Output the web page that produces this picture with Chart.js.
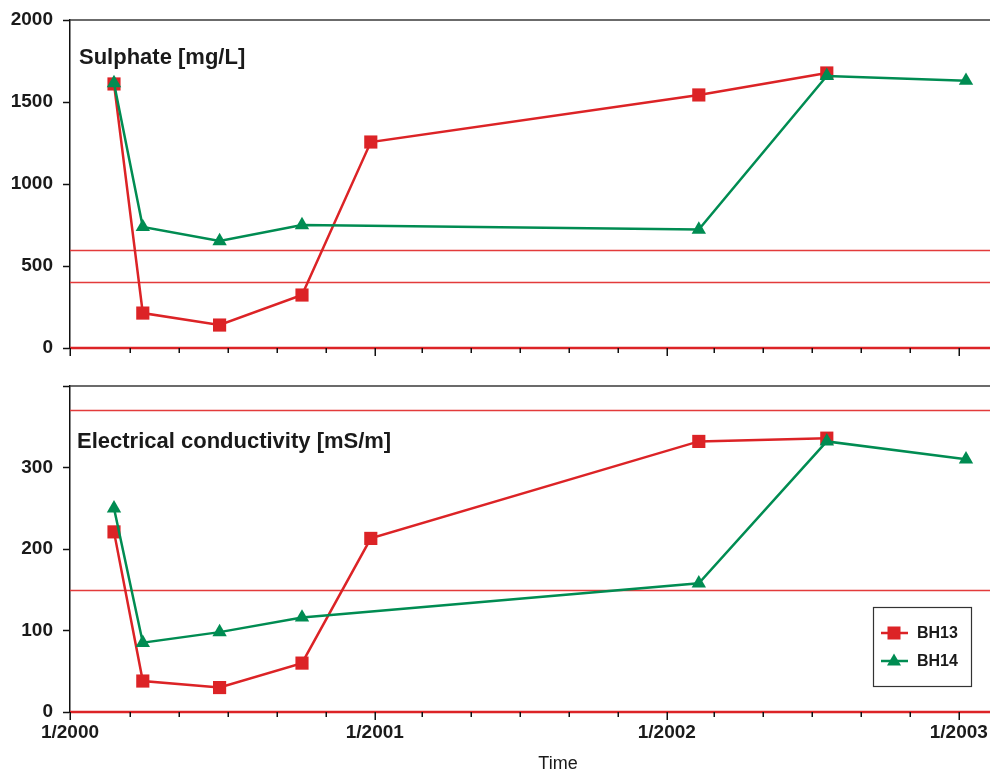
<!DOCTYPE html>
<html>
<head>
<meta charset="utf-8">
<title>Sulphate and electrical conductivity, BH13 / BH14</title>
<script src="https://cdn.jsdelivr.net/npm/chart.js@4.4.0/dist/chart.umd.min.js"></script>
<style>
  html, body { margin: 0; padding: 0; background: #fff; }
  #wrap { position: relative; width: 990px; height: 772px; overflow: hidden; }
  canvas { position: absolute; left: 0; }
  #sulphate { top: 0; }
  #conductivity { top: 365px; }
</style>
</head>
<body>
<div id="wrap">
  <canvas id="sulphate" width="990" height="365"></canvas>
  <canvas id="conductivity" width="990" height="407"></canvas>
</div>
<script>
// Sampling dates (null = no sample for that borehole on that date)
const sampleDates = ['2000-02-10', '2000-03-17', '2000-06-21', '2000-10-02', '2000-12-27', '2002-02-10', '2002-07-20', '2003-01-10'];

const sulphateBH13 = [1610, 213, 140, 323, 1256, 1543, 1677, null];
const sulphateBH14 = [1615, 738, 652, 750, null, 722, 1659, 1630];

const conductivityBH13 = [221, 38, 30, 60, 213, 332, 336, null];
const conductivityBH14 = [250, 85, 98, 116, null, 158, 332, 310];

// Guideline values drawn as horizontal lines
const sulphateLimits = [400, 600];
const conductivityLimits = [150, 370];

// Time axis
const axisStart = '1999-12-17';
const axisEnd = '2003-02-09';
const majorTickDates = ['1999-12-17', '2001-01-01', '2002-01-01', '2003-01-01'];
const xTickLabels = ['1/2000', '1/2001', '1/2002', '1/2003'];
const minorTickDates = [
  '2000-03-01', '2000-05-01', '2000-07-01', '2000-09-01', '2000-11-01',
  '2001-03-01', '2001-05-01', '2001-07-01', '2001-09-01', '2001-11-01',
  '2002-03-01', '2002-05-01', '2002-07-01', '2002-09-01', '2002-11-01'
];

const RED = '#dc2326';
const GREEN = '#008c52';
const FONT = '"Liberation Sans", Arial, Helvetica, sans-serif';
Chart.defaults.font.family = FONT;

const t = d => new Date(d + 'T00:00:00Z').getTime();

function toPoints(values) {
  const pts = [];
  values.forEach((v, i) => { if (v !== null) pts.push({ x: t(sampleDates[i]), y: v }); });
  return pts;
}

function seriesFor(bh13, bh14) {
  return [
    {
      label: 'BH13', data: toPoints(bh13), order: 1,
      borderColor: RED, backgroundColor: RED, borderWidth: 2.5,
      pointStyle: 'rect', pointRadius: 9.3, pointBorderWidth: 0,
      pointBackgroundColor: RED
    },
    {
      label: 'BH14', data: toPoints(bh14), order: 0,
      borderColor: GREEN, backgroundColor: GREEN, borderWidth: 2.5,
      pointStyle: 'triangle', pointRadius: 8.3, pointBorderWidth: 0,
      pointBackgroundColor: GREEN
    }
  ];
}

const majorValues = majorTickDates.map(t);
const allTicks = majorValues.map(v => ({ value: v, major: true }))
  .concat(minorTickDates.map(d => ({ value: t(d), major: false })))
  .sort((a, b) => a.value - b.value);

function xScale(showLabels, boxHeight) {
  return {
    type: 'linear',
    min: t(axisStart),
    max: t(axisEnd),
    afterBuildTicks: s => { s.ticks = allTicks.map(k => ({ value: k.value, major: k.major })); },
    afterFit: s => { s.height = boxHeight; s.paddingLeft = 0; s.paddingRight = 0; },
    border: { display: false },
    grid: { drawOnChartArea: false, drawTicks: true, tickLength: 7, color: 'rgba(0,0,0,0)' },
    ticks: {
      display: showLabels, autoSkip: false, maxRotation: 0, minRotation: 0, padding: 2,
      color: '#1a1a1a', font: { size: 19, weight: 'bold' },
      callback: v => { const i = majorValues.indexOf(v); return i >= 0 ? xTickLabels[i] : ''; }
    }
  };
}

function yScale(max, step, hideTop) {
  return {
    type: 'linear', min: 0, max: max,
    afterFit: s => { s.width = 70; s.paddingTop = 0; s.paddingBottom = 0; },
    border: { display: true, color: '#111', width: 1.5 },
    grid: { drawOnChartArea: false, drawTicks: true, tickLength: 7, tickColor: '#111', tickWidth: 1.5 },
    ticks: {
      stepSize: step, padding: 10, color: '#1a1a1a', font: { size: 19, weight: 'bold' },
      callback: v => (hideTop && v === max) ? '' : String(v)
    }
  };
}

// Guideline lines, zero line and frame line along the top of the plot
const guidePlugin = {
  id: 'guides',
  beforeDatasetsDraw(chart, args, opts) {
    const { ctx, chartArea: a, scales: { y } } = chart;
    ctx.save();
    ctx.strokeStyle = '#e33b3b';
    ctx.lineWidth = 1.3;
    opts.values.forEach(v => {
      const py = Math.round(y.getPixelForValue(v)) + 0.5;
      ctx.beginPath(); ctx.moveTo(a.left, py); ctx.lineTo(a.right, py); ctx.stroke();
    });
    ctx.strokeStyle = RED;
    ctx.lineWidth = 2.5;
    const p0 = y.getPixelForValue(0);
    ctx.beginPath(); ctx.moveTo(a.left, p0); ctx.lineTo(a.right, p0); ctx.stroke();
    ctx.strokeStyle = '#3a3a3a';
    ctx.lineWidth = 1.5;
    ctx.beginPath(); ctx.moveTo(a.left, a.top); ctx.lineTo(a.right, a.top); ctx.stroke();
    ctx.restore();
  }
};

// Time-axis tick marks: long for year marks, short for the two-monthly marks
const timeTickPlugin = {
  id: 'timeTicks',
  afterDraw(chart) {
    const { ctx, chartArea: a, scales: { x } } = chart;
    ctx.save();
    ctx.strokeStyle = '#111';
    ctx.lineWidth = 1.5;
    x.ticks.forEach(k => {
      const px = Math.round(x.getPixelForValue(k.value)) + 0.25;
      const len = k.major ? 8 : 5;
      ctx.beginPath(); ctx.moveTo(px, a.bottom); ctx.lineTo(px, a.bottom + len); ctx.stroke();
    });
    ctx.restore();
  }
};

// Panel heading and optional axis caption
const captionPlugin = {
  id: 'captions',
  afterDraw(chart, args, opts) {
    const { ctx } = chart;
    ctx.save();
    (opts.items || []).forEach(it => {
      ctx.font = it.font;
      ctx.fillStyle = '#1a1a1a';
      ctx.textAlign = it.align || 'left';
      ctx.textBaseline = 'alphabetic';
      ctx.fillText(it.text, it.x, it.y);
    });
    ctx.restore();
  }
};

// Boxed legend inside the plot
const boxLegendPlugin = {
  id: 'boxLegend',
  afterDraw(chart, args, opts) {
    if (!opts.show) return;
    const { ctx } = chart;
    const { x, y, w, h } = opts;
    ctx.save();
    ctx.fillStyle = '#fff';
    ctx.fillRect(x, y, w, h);
    ctx.strokeStyle = '#333';
    ctx.lineWidth = 1.2;
    ctx.strokeRect(x + 0.5, y + 0.5, w, h);
    const ds = chart.data.datasets;
    ds.forEach((d, i) => {
      const cy = y + 26 + i * 28;
      ctx.strokeStyle = d.borderColor;
      ctx.lineWidth = 2.5;
      ctx.beginPath(); ctx.moveTo(x + 8, cy); ctx.lineTo(x + 35, cy); ctx.stroke();
      ctx.fillStyle = d.borderColor;
      const cx = x + 21;
      if (d.pointStyle === 'rect') {
        ctx.fillRect(cx - 6.5, cy - 6.5, 13, 13);
      } else {
        ctx.beginPath();
        ctx.moveTo(cx, cy - 7.5);
        ctx.lineTo(cx + 7, cy + 4.5);
        ctx.lineTo(cx - 7, cy + 4.5);
        ctx.closePath(); ctx.fill();
      }
      ctx.fillStyle = '#1a1a1a';
      ctx.font = 'bold 16px ' + FONT;
      ctx.textBaseline = 'middle';
      ctx.textAlign = 'left';
      ctx.fillText(d.label, x + 44, cy + 1);
    });
    ctx.restore();
  }
};

const commonPlugins = [guidePlugin, timeTickPlugin, captionPlugin, boxLegendPlugin];

new Chart(document.getElementById('sulphate'), {
  type: 'line',
  data: { datasets: seriesFor(sulphateBH13, sulphateBH14) },
  plugins: commonPlugins,
  options: {
    responsive: false, animation: false, events: [],
    layout: { autoPadding: false, padding: { top: 20, right: 0, bottom: 0, left: 0 } },
    scales: { x: xScale(false, 17), y: yScale(2000, 500, false) },
    plugins: {
      legend: { display: false }, tooltip: { enabled: false },
      guides: { values: sulphateLimits },
      captions: { items: [{ text: 'Sulphate [mg/L]', x: 79, y: 64, font: 'bold 22px ' + FONT }] },
      boxLegend: { show: false }
    }
  }
});

new Chart(document.getElementById('conductivity'), {
  type: 'line',
  data: { datasets: seriesFor(conductivityBH13, conductivityBH14) },
  plugins: commonPlugins,
  options: {
    responsive: false, animation: false, events: [],
    layout: { autoPadding: false, padding: { top: 21, right: 0, bottom: 0, left: 0 } },
    scales: { x: xScale(true, 60), y: yScale(400, 100, true) },
    plugins: {
      legend: { display: false }, tooltip: { enabled: false },
      guides: { values: conductivityLimits },
      captions: { items: [
        { text: 'Electrical conductivity [mS/m]', x: 77, y: 83, font: 'bold 22px ' + FONT },
        { text: 'Time', x: 558, y: 404, font: '18px ' + FONT, align: 'center' }
      ] },
      boxLegend: { show: true, x: 873, y: 242, w: 98, h: 79 }
    }
  }
});
</script>
</body>
</html>
